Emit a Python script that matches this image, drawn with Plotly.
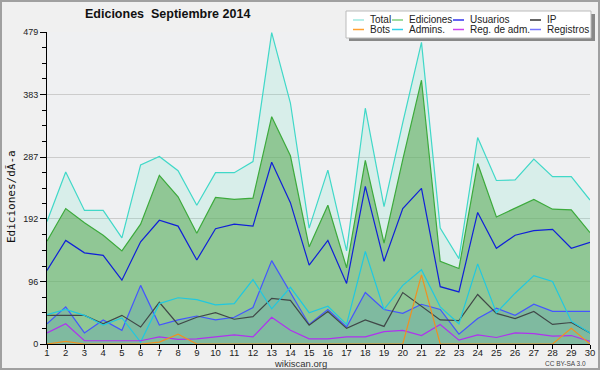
import plotly.graph_objects as go

days = list(range(1, 31))
total = [188, 264, 205, 205, 163, 275, 288, 266, 213, 263, 263, 280, 478, 370, 178,
         267, 143, 362, 211, 340, 463, 178, 131, 317, 251, 252, 284, 257, 257, 221]
ediciones = [158, 208, 186, 167, 143, 184, 259, 226, 170, 225, 222, 224, 349, 289, 149,
             213, 117, 282, 155, 283, 405, 127, 116, 277, 195, 208, 222, 207, 206, 171]
usuarios = [113, 159, 140, 136, 98, 157, 190, 181, 129, 177, 184, 181, 279, 217, 121,
            159, 93, 242, 127, 208, 239, 88, 80, 202, 147, 167, 174, 176, 147, 156]
ip = [44, 44, 44, 31, 44, 26, 64, 30, 41, 48, 38, 42, 70, 67, 29,
      50, 24, 37, 27, 79, 58, 37, 36, 76, 47, 39, 50, 30, 33, 17]
bots = [0, 4, 0, 0, 0, 0, 3, 15, 0, 0, 0, 0, 0, 1, 0,
        0, 0, 0, 0, 0, 106, 0, 0, 0, 0, 0, 0, 0, 24, 0]
admins = [45, 53, 44, 29, 40, 3, 62, 71, 68, 60, 62, 99, 54, 87, 48,
          58, 30, 142, 53, 90, 114, 57, 31, 123, 48, 78, 105, 96, 35, 17]
reg_adm = [17, 31, 5, 5, 4, 5, 11, 7, 8, 11, 14, 11, 41, 21, 8,
           8, 11, 11, 19, 21, 13, 30, 6, 14, 10, 17, 16, 12, 13, 4]
registros = [31, 57, 17, 37, 21, 90, 29, 37, 43, 37, 41, 56, 128, 80, 30,
             53, 26, 79, 53, 47, 61, 53, 15, 39, 55, 44, 61, 50, 50, 50]

y_ticks = [0, 96, 192, 287, 383, 479]
x_ticks = days

legend_rows = [
    [("Total", "#9ee8e0"), ("Ediciones", "#7fd07f"), ("Usuarios", "#3333ee"), ("IP", "#333333")],
    [("Bots", "#ffa030"), ("Admins.", "#30d0e8"), ("Reg. de adm.", "#cc44ee"), ("Registros", "#7777ff")],
]

W, H = 600, 370
ML, MR, MT, MB = 47, 10, 32, 26
PW, PH = W - ML - MR, H - MT - MB


def px(x):
    return (x - ML) / PW


def py(y):
    return (H - MB - y) / PH


FONT = "Liberation Sans, Arial, sans-serif"

fig = go.Figure()

fig.add_trace(go.Scatter(x=days, y=total, mode="lines", fill="tozeroy",
                         line=dict(color="#40d8c8", width=1.2),
                         fillcolor="rgba(80,230,190,0.14)", showlegend=False))
fig.add_trace(go.Scatter(x=days, y=ediciones, mode="lines", fill="tozeroy",
                         line=dict(color="#3caa3c", width=1.2),
                         fillcolor="rgba(96,174,91,0.6)", showlegend=False))
fig.add_trace(go.Scatter(x=days, y=registros, mode="lines", fill="tozeroy",
                         line=dict(color="#4455ff", width=1.2),
                         fillcolor="rgba(77,148,196,0.25)", showlegend=False))
fig.add_trace(go.Scatter(x=days, y=usuarios, mode="lines",
                         line=dict(color="#1020d8", width=1.2), showlegend=False))
fig.add_trace(go.Scatter(x=days, y=ip, mode="lines",
                         line=dict(color="#404848", width=1.2), showlegend=False))
fig.add_trace(go.Scatter(x=days, y=admins, mode="lines",
                         line=dict(color="#20c8e0", width=1.2), showlegend=False))
fig.add_trace(go.Scatter(x=days, y=reg_adm, mode="lines",
                         line=dict(color="#b030f0", width=1.2), showlegend=False))
fig.add_trace(go.Scatter(x=days, y=bots, mode="lines",
                         line=dict(color="#f09020", width=1.2), showlegend=False))

minor_vals = [k * 479 / 20 for k in range(21) if k % 4 != 0]

fig.update_xaxes(range=[1, 30], tickmode="array", tickvals=x_ticks,
                 ticktext=[str(d) for d in x_ticks], automargin=False,
                 showgrid=False, zeroline=False, showline=True, linecolor="black",
                 linewidth=1, ticks="outside", ticklen=4, tickcolor="black",
                 ticklabelstandoff=-4,
                 tickfont=dict(family=FONT, size=9.5, color="#222"))
fig.update_yaxes(range=[0, 479], tickmode="array", tickvals=y_ticks,
                 ticktext=[str(v) for v in y_ticks], automargin=False,
                 showgrid=True, gridcolor="#cccccc", gridwidth=1, zeroline=False,
                 showline=True, linecolor="black", linewidth=1,
                 ticks="outside", ticklen=6, tickcolor="black",
                 minor=dict(tickmode="array", tickvals=minor_vals, ticks="outside",
                            ticklen=4, tickcolor="black", showgrid=False),
                 tickfont=dict(family=FONT, size=9, color="#222"))

shapes = []
annotations = []

# outer frame
shapes.append(dict(type="rect", xref="paper", yref="paper",
                   x0=px(1), x1=px(599), y0=py(369), y1=py(1),
                   line=dict(color="#a0a0a0", width=2), fillcolor="rgba(0,0,0,0)", layer="above"))

# legend shadow + box
shapes.append(dict(type="rect", xref="paper", yref="paper",
                   x0=px(349), x1=px(595), y0=py(41), y1=py(14),
                   line=dict(width=0), fillcolor="#888888", layer="above"))
shapes.append(dict(type="rect", xref="paper", yref="paper",
                   x0=px(346), x1=px(591), y0=py(38), y1=py(11),
                   line=dict(color="#bbbbbb", width=1), fillcolor="white", layer="above"))

col_sym = [353, 392, 453, 530]
row_y = [20, 29.5]
for r, row in enumerate(legend_rows):
    for c, (name, color) in enumerate(row):
        x0 = col_sym[c]
        shapes.append(dict(type="line", xref="paper", yref="paper",
                           x0=px(x0), x1=px(x0 + 11), y0=py(row_y[r]), y1=py(row_y[r]),
                           line=dict(color=color, width=1.5), layer="above"))
        annotations.append(dict(text=name, xref="paper", yref="paper",
                                x=px(x0 + 15), y=py(row_y[r]), xanchor="left", yanchor="middle",
                                showarrow=False,
                                font=dict(family=FONT, size=10, color="#222")))

annotations.append(dict(text="<b>Ediciones\u00a0 Septiembre 2014</b>", xref="paper", yref="paper",
                        x=px(167.5), y=py(14.5), xanchor="center", yanchor="middle",
                        showarrow=False, font=dict(family=FONT, size=12.5, color="#111")))
annotations.append(dict(text="Ediciones/dÃ-a", xref="paper", yref="paper",
                        x=px(11), y=py(197), xanchor="center", yanchor="middle", textangle=-90,
                        showarrow=False,
                        font=dict(family="DejaVu Sans Mono, monospace", size=11, color="#111")))
annotations.append(dict(text="wikiscan.org", xref="paper", yref="paper",
                        x=px(300), y=py(363), xanchor="center", yanchor="middle",
                        showarrow=False, font=dict(family=FONT, size=9.5, color="#333")))
annotations.append(dict(text="CC BY-SA 3.0", xref="paper", yref="paper",
                        x=px(565), y=py(363), xanchor="center", yanchor="middle",
                        showarrow=False, font=dict(family=FONT, size=6.5, color="#444")))

fig.update_layout(width=W, height=H, autosize=False,
                  margin=dict(l=ML, r=MR, t=MT, b=MB, pad=0),
                  paper_bgcolor="#f0f0f0", plot_bgcolor="#eff0f2",
                  showlegend=False, shapes=shapes, annotations=annotations,
                  font=dict(family=FONT))

fig.write_html("out.html", config={"displayModeBar": False},
               post_script="document.body.style.margin='0';document.body.style.padding='0';"
                           "document.body.style.overflow='hidden';")
